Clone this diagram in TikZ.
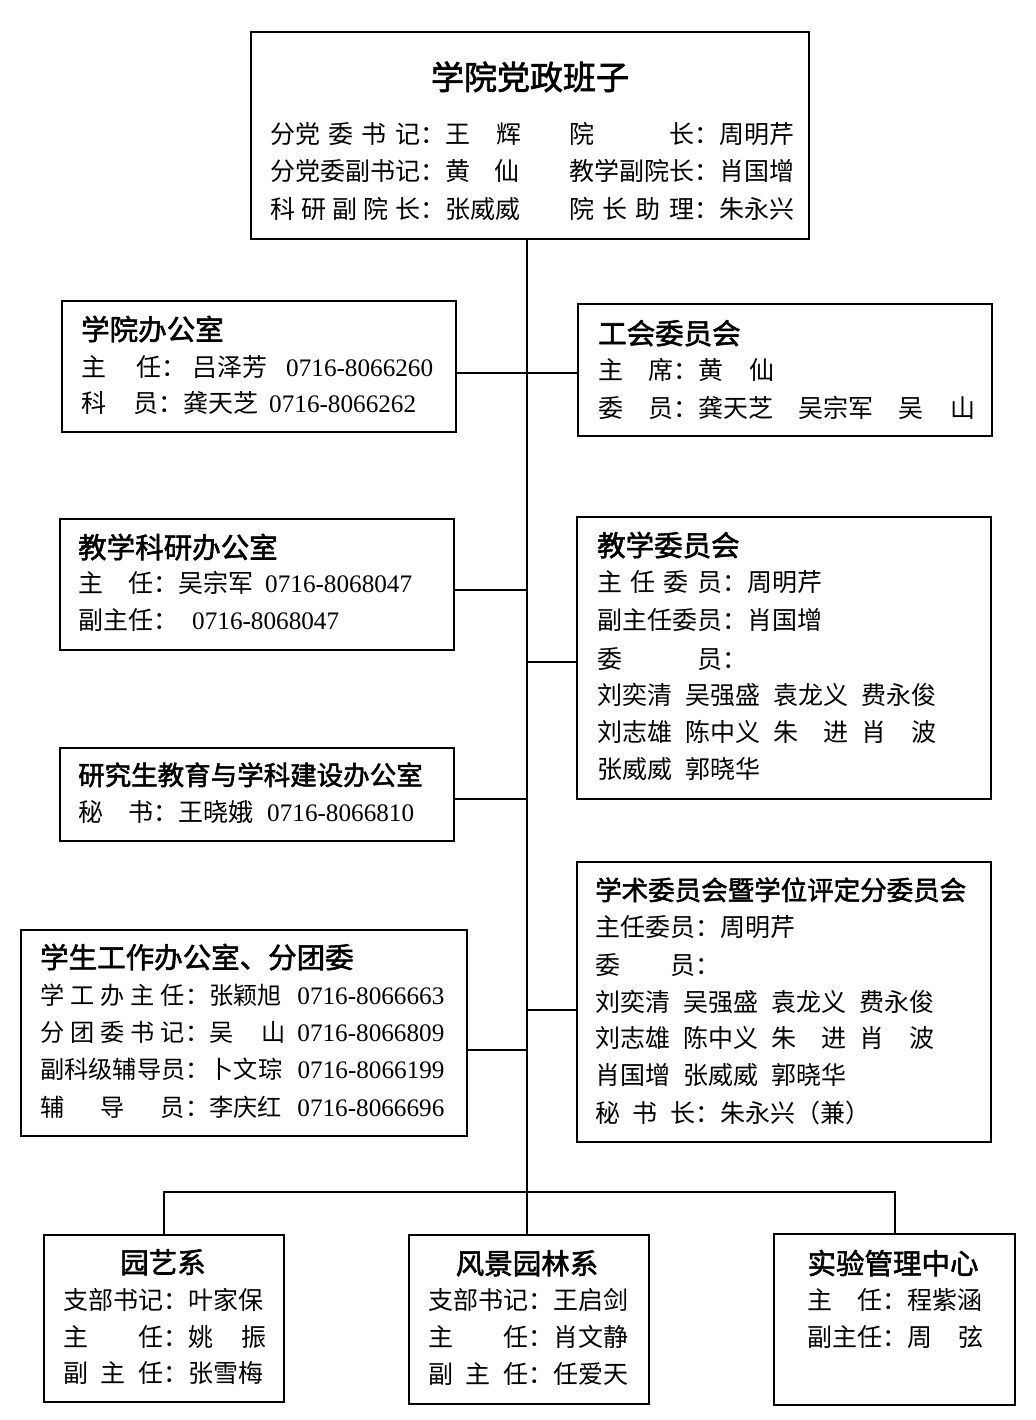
\documentclass[tikz,border=0pt]{standalone}
\usepackage{fontspec}
\setmainfont{Noto Sans CJK SC}[BoldFont={Noto Sans CJK SC}, BoldFeatures={FakeBold=2}]
\newfontfamily\digitfont{Liberation Serif}
\newcommand\W[2]{\makebox[#1pt][s]{#2}}
\newcommand\G[1]{\hspace*{#1pt}}
\newcommand\D[1]{{\fontsize{25.2}{25}\digitfont #1}}
\tikzset{
  box/.style={draw, line width=2pt, inner sep=0pt, anchor=north west},
  conn/.style={line width=2pt},
  txt/.style={inner sep=0pt, anchor=base west, font=\fontsize{25}{25}\selectfont},
  txts/.style={inner sep=0pt, anchor=base west, font=\fontsize{24.2}{25}\selectfont},
  ttl/.style={inner sep=0pt, anchor=base west, font=\fontsize{28.5}{28.5}\selectfont\bfseries},
  ttlsm/.style={inner sep=0pt, anchor=base west, font=\fontsize{26.5}{26.5}\selectfont\bfseries},
  ttlc/.style={ttl, anchor=base},
  ttlbig/.style={inner sep=0pt, anchor=base, font=\fontsize{33}{33}\selectfont\bfseries}
}
\begin{document}
\begin{tikzpicture}[x=1pt, y=-1pt]
\useasboundingbox (0,0) rectangle (1035,1420);
% boxes
\node[box, minimum width=558pt, minimum height=207pt] (lead) at (250,31) {};
\node[box, minimum width=394pt, minimum height=131pt] (office) at (61,300) {};
\node[box, minimum width=414pt, minimum height=132pt] (union) at (577,303) {};
\node[box, minimum width=394pt, minimum height=131pt] (teachoff) at (59,518) {};
\node[box, minimum width=414pt, minimum height=282pt] (teachcom) at (576,516) {};
\node[box, minimum width=394pt, minimum height=93pt] (grad) at (59,747) {};
\node[box, minimum width=414pt, minimum height=280pt] (acad) at (576,861) {};
\node[box, minimum width=446pt, minimum height=206pt] (stud) at (20,929) {};
\node[box, minimum width=240pt, minimum height=167pt] (hort) at (43,1234) {};
\node[box, minimum width=240pt, minimum height=169pt] (land) at (408,1234) {};
\node[box, minimum width=241pt, minimum height=171pt] (lab) at (773,1233) {};
% top box
\node[ttlbig] (leadt) at (530,89.5) {学院党政班子};
\node[txt] (lead1) at (270,143.5) {\W{150}{分党\hfill 委\hfill 书\hfill 记}：王\G{26}辉};
\node[txt] (lead2) at (270,180.5) {分党委副书记：黄\G{24}仙};
\node[txt] (lead3) at (270,218.5) {\W{150}{科\hfill 研\hfill 副\hfill 院\hfill 长}：张威威};
\node[txt] (lead4) at (569,143.5) {\W{125}{院\hfill 长}：周明芹};
\node[txt] (lead5) at (569,180.5) {教学副院长：肖国增};
\node[txt] (lead6) at (569,218.5) {\W{125}{院\hfill 长\hfill 助\hfill 理}：朱永兴};
% office
\node[ttl] (officet) at (81,340) {学院办公室};
\node[txt] (office1) at (81,376.5) {\W{80}{主\hfill 任}：\G{6}吕泽芳\G{19}\D{0716-8066260}};
\node[txt] (office2) at (81,412.5) {\W{77}{科\hfill 员}：龚天芝\G{11}\D{0716-8066262}};
% union
\node[ttl] (uniont) at (598,344) {工会委员会};
\node[txt] (union1) at (598,379.5) {\W{75}{主\hfill 席}：黄\G{26}仙};
\node[txt] (union2) at (598,417.5) {\W{75}{委\hfill 员}：龚天芝\G{25}吴宗军\G{25}吴\G{27}山};
% teaching office
\node[ttl] (teachofft) at (78,558) {教学科研办公室};
\node[txt] (teachoff1) at (78,592.5) {\W{75}{主\hfill 任}：吴宗军\G{12}\D{0716-8068047}};
\node[txt] (teachoff2) at (78,629.5) {副主任：\G{14}\D{0716-8068047}};
% teaching committee
\node[ttl] (teachcomt) at (597,556) {教学委员会};
\node[txt] (teachcom1) at (597,591.5) {\W{125}{主\hfill 任\hfill 委\hfill 员}：周明芹};
\node[txt] (teachcom2) at (597,629.5) {副主任委员：肖国增};
\node[txt] (teachcom3) at (597,668.5) {\W{125}{委\hfill 员}：};
\node[txt] (teachcom4) at (597,704.5) {刘奕清\G{13}吴强盛\G{13}袁龙义\G{13}费永俊};
\node[txt] (teachcom5) at (597,741.5) {刘志雄\G{13}陈中义\G{13}朱\G{25}进\G{13}肖\G{25}波};
\node[txt] (teachcom6) at (597,778.5) {张威威\G{13}郭晓华};
% graduate
\node[ttlsm] (gradt) at (78,785) {研究生教育与学科建设办公室};
\node[txt] (grad1) at (78,821.5) {\W{75}{秘\hfill 书}：王晓娥\G{14}\D{0716-8066810}};
% academic committee
\node[ttlsm] (acadt) at (595,900) {学术委员会暨学位评定分委员会};
\node[txt] (acad1) at (595,936.5) {主任委员：周明芹};
\node[txt] (acad2) at (595,974.5) {\W{100}{委\hfill 员}：};
\node[txt] (acad3) at (595,1011.5) {刘奕清\G{13}吴强盛\G{13}袁龙义\G{13}费永俊};
\node[txt] (acad4) at (595,1047.5) {刘志雄\G{13}陈中义\G{13}朱\G{25}进\G{13}肖\G{25}波};
\node[txt] (acad5) at (595,1084.5) {肖国增\G{13}张威威\G{13}郭晓华};
\node[txt] (acad6) at (595,1122.5) {\W{100}{秘\hfill 书\hfill 长}：朱永兴（兼）};
% student affairs
\node[ttl] (studt) at (40,968) {学生工作办公室、分团委};
\node[txts] (stud1) at (40,1004.2) {\W{145}{学\hfill 工\hfill 办\hfill 主\hfill 任}：\makebox[88pt][l]{张颖旭}\D{0716-8066663}};
\node[txts] (stud2) at (40,1041.2) {\W{145}{分\hfill 团\hfill 委\hfill 书\hfill 记}：\makebox[88pt][l]{吴\G{28}山}\D{0716-8066809}};
\node[txts] (stud3) at (40,1078.2) {副科级辅导员：\makebox[88pt][l]{卜文琮}\D{0716-8066199}};
\node[txts] (stud4) at (40,1116.2) {\W{145}{辅\hfill 导\hfill 员}：\makebox[88pt][l]{李庆红}\D{0716-8066696}};
% horticulture
\node[ttlc] (hortt) at (163,1273) {园艺系};
\node[txt] (hort1) at (63,1309.5) {支部书记：叶家保};
\node[txt] (hort2) at (63,1346.5) {\W{100}{主\hfill 任}：姚\G{28}振};
\node[txt] (hort3) at (63,1382.5) {\W{100}{副\hfill 主\hfill 任}：张雪梅};
% landscape
\node[ttlc] (landt) at (527,1274) {风景园林系};
\node[txt] (land1) at (428,1309.5) {支部书记：王启剑};
\node[txt] (land2) at (428,1346.5) {\W{100}{主\hfill 任}：肖文静};
\node[txt] (land3) at (428,1383.5) {\W{100}{副\hfill 主\hfill 任}：任爱天};
% lab
\node[ttlc] (labt) at (893,1274) {实验管理中心};
\node[txt] (lab1) at (807,1309.5) {\W{75}{主\hfill 任}：程紫涵};
\node[txt] (lab2) at (807,1346.5) {副主任：周\G{26}弦};
% connectors
\coordinate (bus) at (527,1192);
\coordinate (j1) at (527,373);
\coordinate (j2) at (527,590);
\coordinate (j3) at (527,662);
\coordinate (j4) at (527,799);
\coordinate (j5) at (527,1010);
\coordinate (j6) at (527,1050);
\draw[conn] (lead.south -| bus) -- (bus);
\draw[conn] (office.east |- j1) -- (union.west |- j1);
\draw[conn] (teachoff.east |- j2) -- (j2);
\draw[conn] (j3) -- (teachcom.west |- j3);
\draw[conn] (grad.east |- j4) -- (j4);
\draw[conn] (j5) -- (acad.west |- j5);
\draw[conn] (stud.east |- j6) -- (j6);
\draw[conn] (hort.north) -- (hort.north |- bus) -- (lab.north |- bus) -- (lab.north);
\draw[conn] (bus) -- (land.north -| bus);
\end{tikzpicture}
\end{document}
